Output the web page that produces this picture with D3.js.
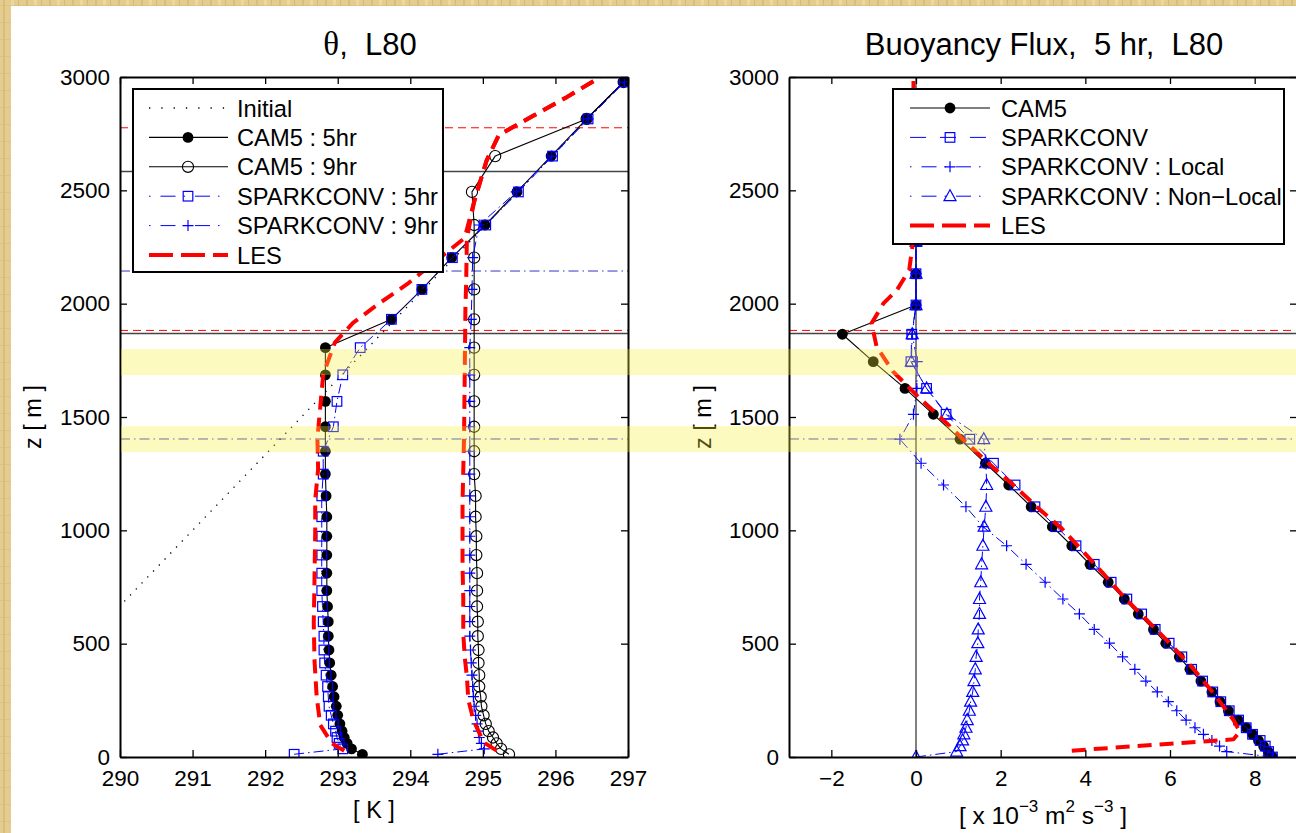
<!DOCTYPE html>
<html><head><meta charset="utf-8">
<script src="https://cdnjs.cloudflare.com/ajax/libs/d3/7.8.5/d3.min.js"></script>
<style>body{margin:0;background:#fff}svg{display:block}</style>
</head><body>
<svg id="c" width="1296" height="833"></svg>
<script>
// ---------------- DATA ----------------
// Left panel: potential temperature on model mid-levels (m)
const zMid = [12, 36, 60, 86, 114, 146, 184, 224, 266, 311, 361, 415, 472, 533, 597, 664, 734, 811, 891, 974, 1060, 1152, 1248, 1349, 1457, 1569, 1686, 1806, 1931, 2063, 2203, 2347, 2493, 2651, 2815, 2978];
const thetaCam5_5hr = [293.34, 293.19, 293.13, 293.09, 293.06, 293.03, 293.00, 292.98, 292.95, 292.93, 292.91, 292.89, 292.88, 292.87, 292.87, 292.86, 292.85, 292.85, 292.85, 292.85, 292.85, 292.84, 292.83, 292.83, 292.83, 292.83, 292.83, 292.83, 293.74, 294.16, 294.57, 295.03, 295.47, 295.94, 296.43, 296.94];
const thetaCam5_9hr = [295.36, 295.25, 295.19, 295.14, 295.08, 295.04, 295.01, 294.98, 294.97, 294.95, 294.95, 294.94, 294.94, 294.93, 294.93, 294.92, 294.92, 294.92, 294.91, 294.91, 294.90, 294.90, 294.88, 294.88, 294.88, 294.88, 294.88, 294.88, 294.88, 294.88, 294.88, 294.88, 294.85, 295.17, 296.43, 296.94];
const thetaSpark_5hr = [292.40, 293.07, 293.02, 292.99, 292.97, 292.94, 292.91, 292.88, 292.87, 292.86, 292.84, 292.82, 292.81, 292.81, 292.80, 292.79, 292.78, 292.78, 292.78, 292.78, 292.78, 292.78, 292.80, 292.80, 292.94, 292.99, 293.07, 293.31, 293.74, 294.16, 294.58, 295.04, 295.49, 295.96, 296.45, 296.95];
const thetaSpark_9hr = [294.38, 295.02, 294.98, 294.95, 294.94, 294.92, 294.90, 294.88, 294.87, 294.86, 294.85, 294.84, 294.83, 294.82, 294.82, 294.82, 294.82, 294.82, 294.82, 294.82, 294.82, 294.82, 294.82, 294.82, 294.82, 294.82, 294.82, 294.82, 294.84, 294.85, 294.86, 294.95, 295.46, 295.95, 296.45, 296.95];
const zInitial = [0, 3000];
const thetaInitial = [288, 297];
const zLes5 = [28, 60, 141, 266, 428, 590, 781, 994, 1134, 1270, 1406, 1545, 1688, 1828, 1915, 2001, 2087, 2200, 2290, 2450, 2630, 2744, 2830, 2910, 3000];
const thetaLes5 = [293.09, 292.92, 292.76, 292.71, 292.68, 292.67, 292.68, 292.69, 292.69, 292.73, 292.72, 292.76, 292.80, 292.96, 293.21, 293.57, 293.96, 294.40, 294.75, 294.88, 295.05, 295.22, 295.70, 296.15, 296.62];
const zLes9 = [28, 65, 163, 251, 354, 442, 546, 707, 840, 972, 1126, 1400, 1678, 1987, 2090, 2290, 2450, 2630, 2744, 2830, 2910, 3000];
const thetaLes9 = [295.19, 295.01, 294.87, 294.80, 294.78, 294.75, 294.73, 294.73, 294.72, 294.72, 294.72, 294.74, 294.75, 294.76, 294.77, 294.78, 294.88, 295.05, 295.22, 295.70, 296.15, 296.62];

// Right panel: buoyancy flux on interfaces (x 1e-3 m2 s-3)
const zInt = [0, 24, 48, 73, 100, 129, 163, 204, 244, 287, 335, 387, 442, 502, 563, 631, 697, 771, 850, 932, 1016, 1104, 1200, 1296, 1402, 1512, 1626, 1744, 1865, 1994, 2132, 2274];
const fluxCam5 = [8.42, 8.32, 8.21, 8.09, 7.95, 7.80, 7.61, 7.38, 7.18, 6.99, 6.73, 6.47, 6.22, 5.90, 5.61, 5.25, 4.92, 4.54, 4.11, 3.68, 3.22, 2.72, 2.19, 1.64, 1.04, 0.41, -0.26, -1.01, -1.74, 0, 0, 0];
const fluxSpark = [8.42, 8.33, 8.25, 8.13, 7.95, 7.80, 7.62, 7.40, 7.20, 7.01, 6.77, 6.51, 6.28, 5.98, 5.65, 5.33, 4.98, 4.61, 4.21, 3.78, 3.31, 2.81, 2.34, 1.83, 1.27, 0.71, 0.25, -0.12, -0.10, 0, 0, 0];
const fluxLocal = [8.42, 7.34, 7.17, 6.99, 6.79, 6.59, 6.38, 6.16, 5.96, 5.70, 5.43, 5.17, 4.88, 4.57, 4.21, 3.86, 3.47, 3.05, 2.60, 2.14, 1.58, 1.18, 0.65, 0.12, -0.38, -0.06, 0.02, 0.03, -0.09, 0, 0, 0];
const fluxNonLocal = [0, 0.96, 1.04, 1.10, 1.13, 1.18, 1.21, 1.26, 1.29, 1.34, 1.37, 1.40, 1.42, 1.46, 1.47, 1.50, 1.50, 1.53, 1.55, 1.58, 1.61, 1.65, 1.67, 1.65, 1.60, 0.73, 0.25, -0.11, -0.09, 0, 0, 0];
const zLesFlux = [28, 78, 112, 163, 281, 398, 516, 612, 700, 810, 896, 1009, 1104, 1200, 1296, 1399, 1472, 1582, 1700, 1810, 1913, 2001, 2060, 2149, 2260, 2500, 3000];
const fluxLes = [3.68, 7.50, 7.65, 7.50, 7.03, 6.51, 5.92, 5.41, 4.94, 4.42, 4.00, 3.44, 2.85, 2.30, 1.71, 1.12, 0.73, 0.09, -0.54, -0.93, -1.05, -0.77, -0.45, -0.16, -0.08, -0.06, -0.06];
const zZeroLine = [0, 3000];

// Boundary-layer heights (m)
const pblLes9 = 2776, pblCam9 = 2583, pblSpark9 = 2144;
const pblLes5 = 1882, pblCam5 = 1868, pblSpark5 = 1403;
// Highlighted bands (m)
const bandLow = [1685, 1345];
const bandHigh = [1800, 1460];

// Ticks and labels
const thetaTicks = [290, 291, 292, 293, 294, 295, 296, 297];
const fluxTicks = [-2, 0, 2, 4, 6, 8];
const zTicks = [0, 500, 1000, 1500, 2000, 2500, 3000];
const legendLeft = ["Initial", "CAM5 : 5hr", "CAM5 : 9hr", "SPARKCONV : 5hr", "SPARKCONV : 9hr", "LES"];
const legendRight = ["CAM5", "SPARKCONV", "SPARKCONV : Local", "SPARKCONV : Non\u2212Local", "LES"];

// ---------------- DRAW ----------------
const svg = d3.select('#c');
const FONT = "'Liberation Sans', Arial, Helvetica, sans-serif";

// parchment border
const defs = svg.append('defs');
const pat = defs.append('pattern').attr('id','parch').attr('patternUnits','userSpaceOnUse').attr('width',23).attr('height',17);
pat.append('rect').attr('width',23).attr('height',17).attr('fill','#e4cb8e');
pat.append('rect').attr('x',3).attr('width',2).attr('height',17).attr('fill','#d2b470').attr('opacity',0.6);
pat.append('rect').attr('x',11).attr('width',3).attr('height',17).attr('fill','#f0dcaa').attr('opacity',0.7);
pat.append('rect').attr('x',18).attr('width',1).attr('height',17).attr('fill','#c6a565').attr('opacity',0.5);
pat.append('rect').attr('y',5).attr('width',23).attr('height',1).attr('fill','#d6ba7a').attr('opacity',0.5);
svg.append('rect').attr('width',1296).attr('height',833).attr('fill','url(#parch)');
svg.append('rect').attr('x',11).attr('y',6).attr('width',1285).attr('height',827).attr('fill','#fff');

const yS = d3.scaleLinear().domain([0,3000]).range([757,77]);
const xL = d3.scaleLinear().domain([290,297]).range([120,628]);
const xR = d3.scaleLinear().domain([-3,9]).range([789,1297]);

function clip(id, x){
  defs.append('clipPath').attr('id',id).append('rect')
    .attr('x',x.range()[0]).attr('y',yS.range()[1])
    .attr('width',x.range()[1]-x.range()[0]).attr('height',yS.range()[0]-yS.range()[1]);
}
clip('clipL', xL); clip('clipR', xR);

function styleAxis(g){
  g.selectAll('.domain').attr('stroke','#000').attr('stroke-width',2);
  g.selectAll('.tick line').attr('stroke','#000').attr('stroke-width',1.3);
  g.selectAll('text').attr('font-family',FONT).attr('font-size','22.5px').attr('fill','#000');
}
function frame(x, xt){
  const g = svg.append('g');
  const x0=x.range()[0], x1=x.range()[1], y0=yS.range()[0], y1=yS.range()[1];
  g.append('g').attr('transform',`translate(0,${y0})`)
    .call(d3.axisBottom(x).tickValues(xt).tickSizeInner(-7).tickSizeOuter(0).tickPadding(13).tickFormat(d3.format('d'))).call(styleAxis);
  g.append('g').attr('transform',`translate(0,${y1})`)
    .call(d3.axisTop(x).tickValues(xt).tickSizeInner(-7).tickSizeOuter(0).tickFormat('')).call(styleAxis);
  g.append('g').attr('transform',`translate(${x0},0)`)
    .call(d3.axisLeft(yS).tickValues(zTicks).tickSizeInner(-7).tickSizeOuter(0).tickPadding(10).tickFormat(d3.format('d'))).call(styleAxis);
  g.append('g').attr('transform',`translate(${x1},0)`)
    .call(d3.axisRight(yS).tickValues(zTicks).tickSizeInner(-7).tickSizeOuter(0).tickFormat('')).call(styleAxis);
  return g;
}

const BLUE='#0000ff', RED='#ff0000';
const DASHDOT='10,4,1.5,4';
function pts(xs, zs){ return xs.map((v,i)=>[v, zs[i]]); }
function line(g, x, data, stroke, width, dash){
  g.append('path').datum(data)
    .attr('d', d3.line().x(d=>x(d[0])).y(d=>yS(d[1])))
    .attr('fill','none').attr('stroke',stroke).attr('stroke-width',width)
    .attr('stroke-dasharray',dash||null).attr('stroke-linejoin','round');
}
function marker(g, type, cx, cy, color){
  if(type==='fcircle') g.append('circle').attr('cx',cx).attr('cy',cy).attr('r',5.4).attr('fill','#000');
  else if(type==='ocircle') g.append('circle').attr('cx',cx).attr('cy',cy).attr('r',5.6).attr('fill','none').attr('stroke','#000').attr('stroke-width',1.1);
  else if(type==='square') g.append('rect').attr('x',cx-4.8).attr('y',cy-4.8).attr('width',9.6).attr('height',9.6).attr('fill','none').attr('stroke',color).attr('stroke-width',1.2);
  else if(type==='plus') g.append('path').attr('d',`M${cx-5.5},${cy}H${cx+5.5}M${cx},${cy-5.5}V${cy+5.5}`).attr('stroke',color).attr('stroke-width',1.2);
  else if(type==='tri') g.append('path').attr('d',`M${cx},${cy-6.5}L${cx-6},${cy+4.5}L${cx+6},${cy+4.5}Z`).attr('fill','none').attr('stroke',color).attr('stroke-width',1.2);
}
function markers(g, x, data, type, color){
  data.forEach(d=>marker(g, type, x(d[0]), yS(d[1]), color));
}
function hline(g, x, z, stroke, width, dash){
  g.append('line').attr('x1',x.range()[0]).attr('x2',x.range()[1]).attr('y1',yS(z)).attr('y2',yS(z))
    .attr('stroke',stroke).attr('stroke-width',width).attr('stroke-dasharray',dash||null);
}

// ---- Left panel ----
const gL = svg.append('g').attr('clip-path','url(#clipL)');
hline(gL, xL, pblLes9, RED, 1, '8,5');
hline(gL, xL, pblCam9, '#444', 1.5);
hline(gL, xL, pblSpark9, '#3535c8', 1, DASHDOT);
hline(gL, xL, pblLes5, RED, 1, '8,5');
hline(gL, xL, pblCam5, '#444', 1.5);
hline(gL, xL, pblSpark5, '#3535c8', 1, DASHDOT);
line(gL, xL, pts(thetaInitial, zInitial), '#000', 1.3, '1.3,7');
const c5 = pts(thetaCam5_5hr, zMid), c9 = pts(thetaCam5_9hr, zMid);
const s5 = pts(thetaSpark_5hr, zMid), s9 = pts(thetaSpark_9hr, zMid);
line(gL, xL, c5, '#000', 1.1); markers(gL, xL, c5, 'fcircle');
line(gL, xL, c9, '#000', 1.1); markers(gL, xL, c9, 'ocircle');
line(gL, xL, s5, BLUE, 1, DASHDOT); markers(gL, xL, s5, 'square', BLUE);
line(gL, xL, s9, BLUE, 1, DASHDOT); markers(gL, xL, s9, 'plus', BLUE);
line(gL, xL, pts(thetaLes5, zLes5), RED, 4, '14,8');
line(gL, xL, pts(thetaLes9, zLes9), RED, 4, '14,8');
frame(xL, thetaTicks);

// ---- Right panel ----
const gR = svg.append('g').attr('clip-path','url(#clipR)');
hline(gR, xR, pblLes5, RED, 1, '8,5');
hline(gR, xR, pblCam5, '#444', 1.5);
hline(gR, xR, pblSpark5, '#3535c8', 1, DASHDOT);
line(gR, xR, pts([0,0], zZeroLine), '#000', 1);
const fc = pts(fluxCam5, zInt), fs = pts(fluxSpark, zInt), fl = pts(fluxLocal, zInt), fn = pts(fluxNonLocal, zInt);
line(gR, xR, fc, '#000', 1.1); markers(gR, xR, fc, 'fcircle');
line(gR, xR, fs, BLUE, 1, '10,6'); markers(gR, xR, fs, 'square', BLUE);
line(gR, xR, fl, BLUE, 1, DASHDOT); markers(gR, xR, fl, 'plus', BLUE);
line(gR, xR, fn, BLUE, 1, DASHDOT); markers(gR, xR, fn, 'tri', BLUE);
line(gR, xR, pts(fluxLes, zLesFlux), RED, 4, '14,8');
frame(xR, fluxTicks);

// ---- Titles and labels ----
function txt(x, y, s, size, anchor){
  return svg.append('text').attr('x',x).attr('y',y).attr('font-family',FONT).attr('font-size',size+'px')
    .attr('text-anchor',anchor||'middle').attr('fill','#000').text(s);
}
const t1 = svg.append('text').attr('x',370).attr('y',55).attr('font-family',FONT).attr('font-size','31px').attr('text-anchor','middle');
t1.append('tspan').attr('font-family',"'Liberation Serif', 'DejaVu Serif', serif").attr('font-size','33px').text('\u03b8');
t1.append('tspan').text(',\u00a0\u00a0L80');
txt(1044, 55, 'Buoyancy Flux,\u00a0\u00a05 hr,\u00a0\u00a0L80', 31);
txt(374, 818, '[ K ]', 23.5);
const xl = svg.append('text').attr('x',1043).attr('y',824).attr('font-family',FONT).attr('font-size','24.5px').attr('text-anchor','middle');
xl.append('tspan').text('[ x 10');
xl.append('tspan').attr('dy',-12).attr('font-size','17px').text('\u22123');
xl.append('tspan').attr('dy',12).text(' m');
xl.append('tspan').attr('dy',-12).attr('font-size','17px').text('2');
xl.append('tspan').attr('dy',12).text(' s');
xl.append('tspan').attr('dy',-12).attr('font-size','17px').text('\u22123');
xl.append('tspan').attr('dy',12).text('\u00a0]');
[41, 711].forEach(bx=>{
  svg.append('text').attr('transform',`translate(${bx},417) rotate(-90)`).attr('font-family',FONT)
    .attr('font-size','23.5px').attr('text-anchor','middle').attr('fill','#000').text('z [ m ]');
});

// ---- Legends ----
function legend(x0, y0, w, h, labels, specs, lx0, lx1, mx, tx){
  const g = svg.append('g');
  g.append('rect').attr('x',x0).attr('y',y0).attr('width',w).attr('height',h).attr('fill','#fff').attr('stroke','#000').attr('stroke-width',2);
  labels.forEach((lab,i)=>{
    const cy = y0 + 19 + i*29.4;
    const s = specs[i];
    g.append('line').attr('x1',lx0).attr('x2',lx1).attr('y1',cy).attr('y2',cy)
      .attr('stroke',s.c).attr('stroke-width',s.w).attr('stroke-dasharray',s.d||null);
    if(s.m) marker(g, s.m, mx, cy, s.c);
    g.append('text').attr('x',tx).attr('y',cy+8.5).attr('font-family',FONT).attr('font-size','23.7px').attr('fill','#000').text(lab);
  });
}
legend(133, 89, 310, 183, legendLeft, [
  {c:'#000', w:1.3, d:'1.3,11'},
  {c:'#000', w:1.1, m:'fcircle'},
  {c:'#000', w:1.1, m:'ocircle'},
  {c:BLUE, w:1, d:'1.5,10,15,8', m:'square'},
  {c:BLUE, w:1, d:'1.5,10,15,8', m:'plus'},
  {c:RED, w:4, d:'24,8'}
], 149, 228, 188, 237);
legend(893, 89, 391, 155, legendRight, [
  {c:'#000', w:1.1, m:'fcircle'},
  {c:BLUE, w:1, d:'16,14', m:'square'},
  {c:BLUE, w:1, d:'1.5,10,15,8', m:'plus'},
  {c:BLUE, w:1, d:'1.5,10,15,8', m:'tri'},
  {c:RED, w:4, d:'24,8'}
], 910, 990, 950, 1001);

// ---- Highlight bands (on top) ----
bandLow.forEach((lo,i)=>{
  svg.append('rect').attr('x',121).attr('y',yS(bandHigh[i])).attr('width',1296-121).attr('height',yS(lo)-yS(bandHigh[i]))
    .attr('fill','rgb(250,240,60)').attr('fill-opacity',0.32);
});
</script>
</body></html>
